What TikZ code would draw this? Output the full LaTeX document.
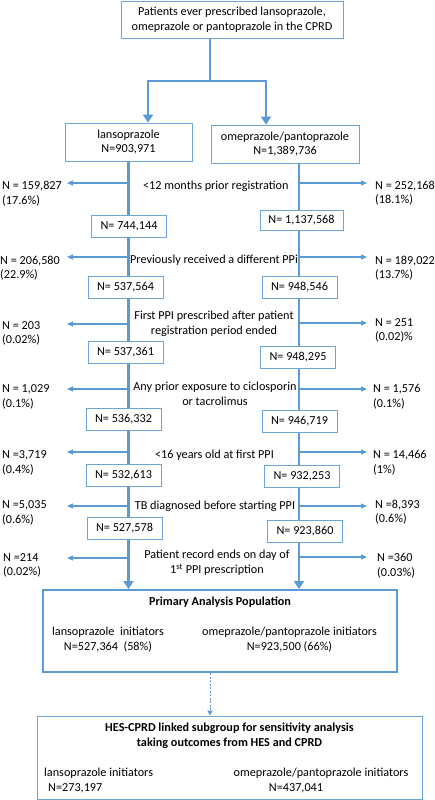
\documentclass[tikz,border=0pt]{standalone}
\usepackage{fontspec}
\setmainfont{Carlito}
\usetikzlibrary{arrows.meta,backgrounds}
\definecolor{lineblue}{RGB}{91,155,213}
\definecolor{boxblue}{RGB}{110,165,215}
\newcommand{\flowfont}{\fontsize{12.2}{14.6}\selectfont}
\begin{document}
\begin{tikzpicture}[x=1pt,y=-1pt,font=\flowfont]
		\tikzstyle{SourceBox} = [rectangle, minimum width=222pt, minimum height=37pt, align=center, draw=boxblue, line width=0.8pt, fill=white]
		\tikzstyle{DrugBox} = [rectangle, minimum height=38pt, align=center, draw=boxblue, line width=0.8pt, fill=white]
		\tikzstyle{CountBox} = [rectangle, minimum width=75pt, minimum height=22pt, text centered, draw=boxblue, line width=0.8pt, fill=white]
		\tikzstyle{Criterion} = [align=center, inner sep=0pt]
		\tikzstyle{Excluded} = [align=left, inner sep=0pt, anchor=west]
		\tikzstyle{Title} = [align=center, inner sep=0pt, font=\flowfont\bfseries]
		\tikzstyle{mainarrow} = [draw=lineblue, line width=2.8pt, -{Triangle[width=10pt,length=8pt]}]
		\tikzstyle{sidearrow} = [draw=lineblue, line width=1.1pt, -{Triangle[width=5pt,length=6pt]}]
		\tikzstyle{dasharrow} = [draw=lineblue, line width=0.8pt, dashed, dash pattern=on 2pt off 1.5pt, -{Triangle[width=5pt,length=5pt]}]
		
		\useasboundingbox (0,0) rectangle (435,800);
		
		\node (source) [SourceBox] at (232,19.5) {Patients ever prescribed lansoprazole,\\omeprazole or pantoprazole in the CPRD};
		\node (lanso) [DrugBox, minimum width=127pt] at (128.5,142) {lansoprazole\\N=903,971};
		\node (omep) [DrugBox, minimum width=148pt] at (285,144) {omeprazole/pantoprazole\\N=1,389,736};
		
		\coordinate (stem) at (210,81);
		\coordinate (jL) at (148,81);
		\coordinate (jR) at (266,81);
		\coordinate (colR) at (299,0);
		\coordinate (dash) at (210,0);
		
		% patients left after each step
		\node (nL1) [CountBox] at (129,226) {N= 744,144};
		\node (nR1) [CountBox, minimum width=83pt, minimum height=20pt] at (301.5,220) {N= 1,137,568};
		\node (nL2) [CountBox] at (125.5,287.5) {N= 537,564};
		\node (nR2) [CountBox] at (299.5,287.5) {N= 948,546};
		\node (nL3) [CountBox] at (125.5,352.5) {N= 537,361};
		\node (nR3) [CountBox] at (298,357.5) {N= 948,295};
		\node (nL4) [CountBox] at (123.5,419) {N= 536,332};
		\node (nR4) [CountBox] at (299.5,421) {N= 946,719};
		\node (nL5) [CountBox] at (123.5,475.5) {N= 532,613};
		\node (nR5) [CountBox] at (302,476.5) {N= 932,253};
		\node (nL6) [CountBox] at (124.5,528.5) {N= 527,578};
		\node (nR6) [CountBox] at (305,531) {N= 923,860};
		
		% exclusion criteria
		\node (crit1) [Criterion] at (215.8,186) {<12 months prior registration};
		\node (crit2) [Criterion] at (214,260) {Previously received a different PPi};
		\node (crit3) [Criterion] at (214,324) {First PPI prescribed after patient\\registration period ended};
		\node (crit4) [Criterion] at (215,394) {Any prior exposure to ciclosporin\\or tacrolimus};
		\node (crit5) [Criterion] at (214.5,455) {<16 years old at first PPI};
		\node (crit6) [Criterion] at (215,506) {TB diagnosed before starting PPI};
		\node (crit7) [Criterion] at (217,563) {Patient record ends on day of\\1\textsuperscript{st} PPI prescription};
		
		% excluded patients
		\node (exL1) [Excluded] at (2,193.4) {N = 159,827\\(17.6\%)};
		\node (exL2) [Excluded] at (0,268) {N = 206,580\\(22.9\%)};
		\node (exL3) [Excluded] at (2,333.5) {N = 203\\(0.02\%)};
		\node (exL4) [Excluded] at (2,397) {N = 1,029\\(0.1\%)};
		\node (exL5) [Excluded] at (2,463) {N =3,719\\(0.4\%)};
		\node (exL6) [Excluded] at (2,513) {N =5,035\\(0.6\%)};
		\node (exL7) [Excluded] at (3,565.5) {N =214\\(0.02\%)};
		\node (exR1) [Excluded] at (375,193) {N = 252,168\\(18.1\%)};
		\node (exR2) [Excluded] at (375,268) {N = 189,022\\(13.7\%)};
		\node (exR3) [Excluded] at (375,330.5) {N = 251\\(0.02)\%};
		\node (exR4) [Excluded] at (373,397) {N = 1,576\\(0.1\%)};
		\node (exR5) [Excluded] at (373,463) {N = 14,466\\(1\%)};
		\node (exR6) [Excluded] at (375,512) {N =8,393\\(0.6\%)};
		\node (exR7) [Excluded] at (377,565.5) {N =360\\(0.03\%)};
		
		% final populations
		\node (prim) [rectangle, minimum width=354pt, minimum height=82pt, draw=lineblue, line width=2pt] at (220,631) {};
		\node (primTitle) [Title] at (220,602) {Primary Analysis Population};
		\node (primL) [Criterion] at (108,639.5) {lansoprazole~ initiators\\N=527,364~ (58\%)};
		\node (primR) [Criterion] at (289.5,639.5) {omeprazole/pantoprazole initiators\\N=923,500 (66\%)};
		
		\node (hes) [rectangle, minimum width=385pt, minimum height=83pt, draw=boxblue, line width=0.8pt] at (229.5,757.5) {};
		\node (hesTitle) [Title] at (229.5,735.5) {HES-CPRD linked subgroup for sensitivity analysis\\taking outcomes from HES and CPRD};
		\node (hesL) [Excluded] at (44,780.5) {lansoprazole initiators\\\hspace{4pt}N=273,197};
		\node (hesR1) [Criterion] at (321,773) {omeprazole/pantoprazole initiators};
		\node (hesR2) [Criterion] at (296,788) {N=437,041};
		
		\begin{pgfonlayer}{background}
		\draw [mainarrow] (source.south -| stem) -- (stem) -| (jL |- lanso.north);
		\draw [mainarrow] (stem) -| (jR |- omep.north);
		\draw [mainarrow] (lanso.south) -- (lanso.south |- prim.north);
		\draw [mainarrow] (omep.south -| colR) -- (prim.north -| colR);
		\foreach \i/\yl/\yr in {1/183/183, 2/257/257, 3/324/323, 4/389/389, 5/452/452, 6/506/506, 7/558/557}{
			\coordinate (outL\i) at (67,\yl);
			\coordinate (outR\i) at (367,\yr);
			\draw [sidearrow] (lanso.south |- outL\i) -- (outL\i);
			\draw [sidearrow] (colR |- outR\i) -- (outR\i);
		}
		\end{pgfonlayer}
		\draw [dasharrow] (prim.south -| dash) -- (hes.north -| dash);
		\end{tikzpicture}
\end{document}
